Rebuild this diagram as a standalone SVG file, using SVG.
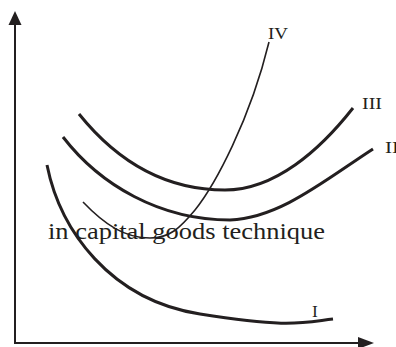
<svg xmlns="http://www.w3.org/2000/svg" width="396" height="347" viewBox="0 0 396 347">
<defs>
<style>
.ax{stroke:#231f20;stroke-width:2;fill:none}
.cv{stroke:#231f20;stroke-width:3;fill:none;stroke-linecap:butt}
.thin{stroke:#231f20;stroke-width:1.6;fill:none}
.lbl{font-family:"Liberation Serif","Times New Roman",serif;font-size:17.5px;fill:#231f20}
.txt{font-family:"Liberation Serif","Times New Roman",serif;font-size:23px;fill:#231f20}
</style>
</defs>
<rect width="396" height="347" fill="#fff"/>
<g id="axes">
<line class="ax" x1="15" y1="343" x2="15" y2="22"/>
<polygon points="15,11 21.5,25 8.5,25" fill="#231f20"/>
<line class="ax" x1="14" y1="343" x2="362" y2="343"/>
<polygon points="374,343 358,337 358,349" fill="#231f20"/>
</g>
<text class="txt" x="48" y="239" textLength="277" lengthAdjust="spacingAndGlyphs">in capital goods technique</text>
<g id="curves">
<g id="curve-I">
<path class="cv" d="M47,165 C60,230 110,300 200,314 S300,323 333,319"/>
<text class="lbl" x="312" y="317">I</text>
</g>
<g id="curve-II">
<path class="cv" d="M63,137 C100,185 160,220 230,220 C280,218 325,180 373,149"/>
<text class="lbl" x="385" y="153" textLength="14" lengthAdjust="spacingAndGlyphs">II</text>
</g>
<g id="curve-III">
<path class="cv" d="M79,114 C120,165 170,190 225,190 C275,190 320,150 353,108"/>
<text class="lbl" x="362" y="109" textLength="20" lengthAdjust="spacingAndGlyphs">III</text>
</g>
<g id="curve-IV">
<path class="thin" d="M83,202 C105,225 125,238 150,238 C170,238 180,228 195,210 C215,185 250,120 269,42"/>
<text class="lbl" x="268" y="39" textLength="20" lengthAdjust="spacingAndGlyphs">IV</text>
</g>
</g>
</svg>
